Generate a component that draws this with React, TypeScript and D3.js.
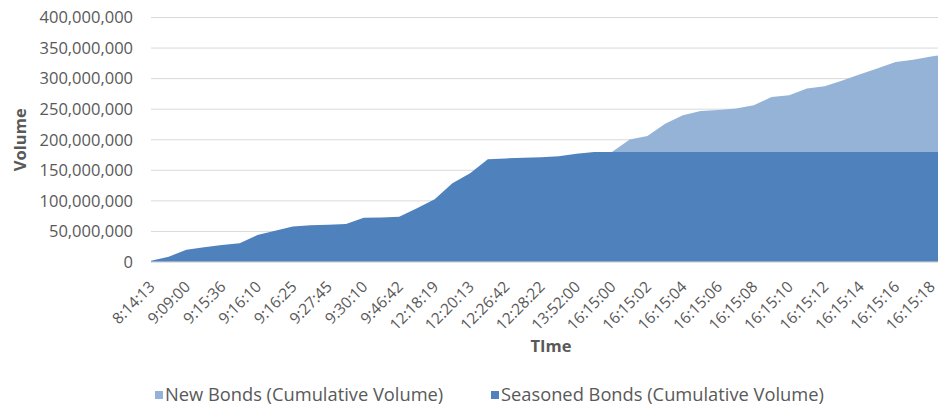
import * as d3 from "d3";

// 1 category per trade timestamp, every 2nd one labelled on the axis
const TIMES = [
  "8:14:13", "8:45:12", "9:09:00", "9:12:20", "9:15:36", "9:15:50", "9:16:10", "9:16:18",
  "9:16:25", "9:20:05", "9:27:45", "9:29:30", "9:30:10", "9:38:00", "9:46:42", "10:52:31",
  "12:18:19", "12:19:40", "12:20:13", "12:24:05", "12:26:42", "12:27:30", "12:28:22", "13:10:44",
  "13:52:00", "15:02:17", "16:15:00", "16:15:01", "16:15:02", "16:15:03", "16:15:04", "16:15:05",
  "16:15:06", "16:15:07", "16:15:08", "16:15:09", "16:15:10", "16:15:11", "16:15:12", "16:15:13",
  "16:15:14", "16:15:15", "16:15:16", "16:15:17", "16:15:18", "16:15:19",
];

// cumulative volumes, in millions
const SEASONED = [
  2, 8.7, 20, 24, 28, 30.6, 44, 51, 58, 60, 61, 62, 72.5, 73, 74, 88,
  102.5, 129, 145, 168, 169.5, 170.5, 171.5, 173, 177, 180, 180, 180, 180, 180, 180, 180,
  180, 180, 180, 180, 180, 180, 180, 180, 180, 180, 180, 180, 180, 180,
];
const NEW_BONDS = [
  0, 0, 0, 0, 0, 0, 0, 0, 0, 0, 0, 0, 0, 0, 0, 0,
  0, 0, 0, 0, 0, 0, 0, 0, 0, 0, 0, 20.5, 26, 46, 60, 67,
  68.5, 71, 76.5, 90, 93, 104, 107.6, 117, 127, 137, 147, 151, 156, 161,
];

const Y_TICKS = [0, 50, 100, 150, 200, 250, 300, 350, 400];

const W = 938;
const H = 408;
const LIGHT = "#95b3d7";
const DARK = "#4f81bd";
const TEXT = "#595959";
const FONT = "'Open Sans', sans-serif";

export default function App() {
  const x = d3
    .scalePoint<string>()
    .domain(TIMES)
    .range([151, 948.8]);
  const y = d3.scaleLinear().domain([0, 400]).range([262, 17.5]);

  const rows = TIMES.map((t, i) => ({ t, seasoned: SEASONED[i], newBonds: NEW_BONDS[i] }));
  const stacked = d3.stack<any>().keys(["seasoned", "newBonds"])(rows);

  const area = d3
    .area<any>()
    .x((d) => x(d.data.t) as number)
    .y0((d) => y(d[0]))
    .y1((d) => y(d[1]));

  const fmt = d3.format(",");
  const [plotLeft, plotRight] = x.range();

  return (
    <svg
      width={W}
      height={H}
      style={{ position: "absolute", left: 0, top: 0, background: "#fff" }}
      fontFamily={FONT}
    >
      {/* gridlines */}
      {Y_TICKS.map((v) => (
        <line key={v} x1={plotLeft} x2={plotRight} y1={y(v)} y2={y(v)} stroke="#d9d9d9" strokeWidth={1} />
      ))}

      {/* stacked areas */}
      <path d={area(stacked[1]) ?? ""} fill={LIGHT} />
      <path d={area(stacked[0]) ?? ""} fill={DARK} />

      <line x1={plotLeft} x2={plotRight} y1={y(0)} y2={y(0)} stroke="#d9d9d9" strokeWidth={1} />

      {/* y axis labels */}
      {Y_TICKS.map((v) => (
        <text
          key={v}
          x={133}
          y={y(v)}
          dy="0.35em"
          textAnchor="end"
          fontSize={16.5}
          fill={TEXT}
        >
          {fmt(v * 1e6)}
        </text>
      ))}

      {/* x axis labels, every other category */}
      {TIMES.filter((_, i) => i % 2 === 0 && i <= 44).map((t) => (
        <text
          key={t}
          transform={`translate(${(x(t) as number) + 1},${284}) rotate(-45)`}
          dy="0.35em"
          textAnchor="end"
          fontSize={15.5}
          fill={TEXT}
        >
          {t}
        </text>
      ))}

      <text
        transform={`translate(20,${(y(0) + y(400)) / 2}) rotate(-90)`}
        textAnchor="middle"
        dy="0.35em"
        fontSize={16.5}
        fontWeight="bold"
        fill={TEXT}
      >
        Volume
      </text>
      <text x={551} y={352} textAnchor="middle" fontSize={16.5} fontWeight="bold" fill={TEXT}>
        TIme
      </text>

      {/* legend */}
      <rect x={155} y={391} width={8} height={8} fill={LIGHT} />
      <text x={165} y={401} fontSize={18.3} fill={TEXT}>
        New Bonds (Cumulative Volume)
      </text>
      <rect x={491} y={391} width={8} height={8} fill={DARK} />
      <text x={501} y={401} fontSize={18.3} fill={TEXT}>
        Seasoned Bonds (Cumulative Volume)
      </text>
    </svg>
  );
}
